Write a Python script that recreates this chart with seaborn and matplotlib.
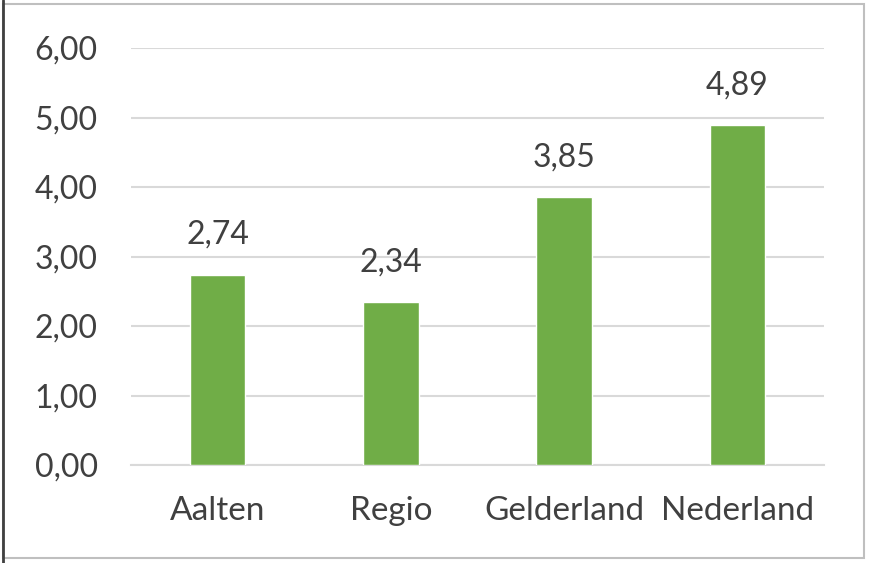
import matplotlib
matplotlib.use("Agg")
import matplotlib.pyplot as plt
import seaborn as sns
import pandas as pd
from matplotlib.patches import Rectangle
from matplotlib.lines import Line2D

# data
categories = ["Aalten", "Regio", "Gelderland", "Nederland"]
values = [2.74, 2.34, 3.85, 4.89]
yticks = [0, 1, 2, 3, 4, 5, 6]

df = pd.DataFrame({"gebied": categories, "waarde": values})

sns.set_theme(style="white")
plt.rcParams["font.family"] = ["Lato", "DejaVu Sans"]
text_color = "#404040"

fig = plt.figure(figsize=(8.74, 5.63), dpi=100)
ax = fig.add_axes([131 / 874, 1 - 465 / 563, (824 - 131) / 874, (465 - 48) / 563])

sns.barplot(data=df, x="gebied", y="waarde", color="#70AD47", saturation=1,
            width=0.32, ax=ax, zorder=3)

ax.set_ylim(0, 6)
ax.set_yticks(yticks)
ax.set_yticklabels([f"{t:.2f}".replace(".", ",") for t in yticks])
ax.yaxis.grid(True, color="#D9D9D9", linewidth=1.5, zorder=0)
ax.set_xlabel("")
ax.set_ylabel("")
for s in ["top", "right", "left"]:
    ax.spines[s].set_visible(False)
ax.spines["bottom"].set_color("#D9D9D9")
ax.spines["bottom"].set_linewidth(1.5)
ax.tick_params(axis="y", length=0, pad=24, labelsize=23, labelcolor=text_color)
ax.tick_params(axis="x", length=0, pad=22, labelsize=24, labelcolor=text_color)

for container in ax.containers:
    ax.bar_label(container, labels=[f"{v:.2f}".replace(".", ",") for v in values],
                 padding=18, fontsize=23, color=text_color)

# chart border
fig.patches.append(Rectangle((0.003, 0.008), 0.985, 0.985, transform=fig.transFigure,
                             fill=False, edgecolor="#BFBFBF", linewidth=1.5))
fig.lines.append(Line2D([0.003, 0.003], [0.0, 1.0], transform=fig.transFigure,
                        color="#404040", linewidth=2))

fig.savefig("out.png", dpi=100)
